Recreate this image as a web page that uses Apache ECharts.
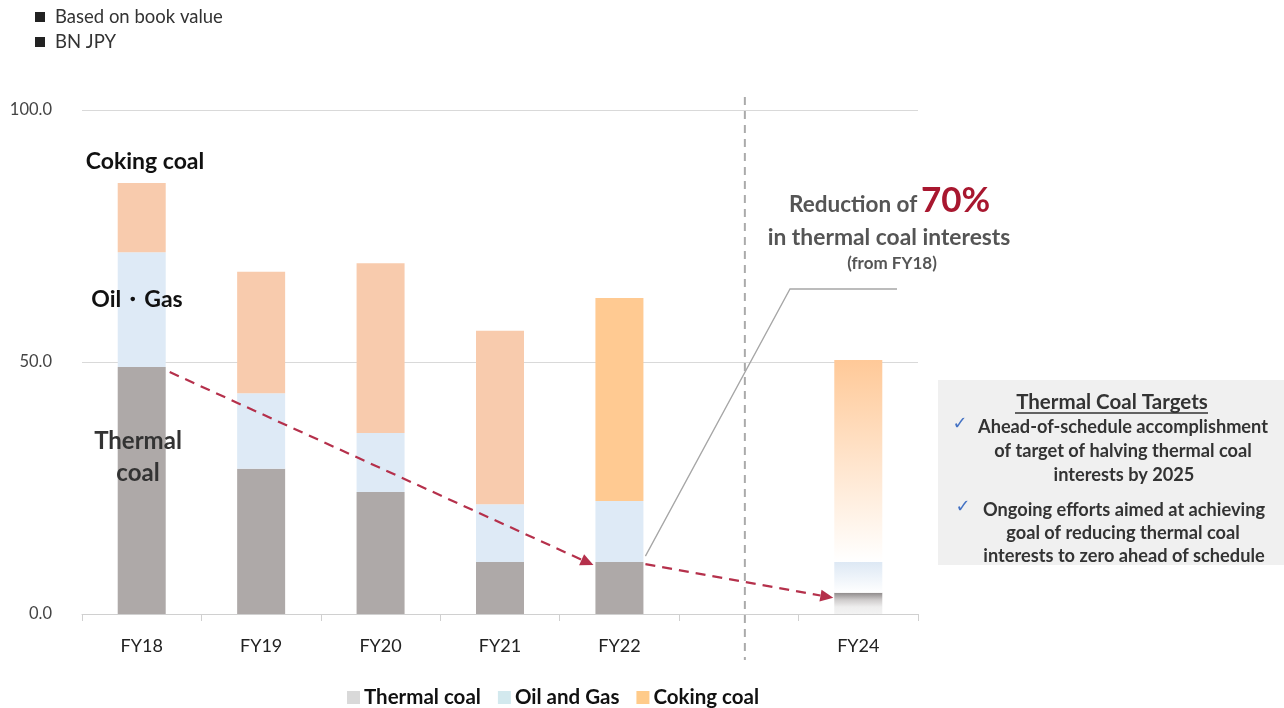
<!DOCTYPE html>
<html><head><meta charset="utf-8">
<script src="https://cdn.jsdelivr.net/npm/echarts@6/dist/echarts.min.js"></script>
<style>html,body{margin:0;padding:0;background:#fff}#c{width:1284px;height:708px}</style>
</head><body><div id="c"></div>
<script>
const categories = ['FY18','FY19','FY20','FY21','FY22','','FY24'];
const thermalCoal = [49.0, 28.8, 24.2, 10.3, 10.3, null, 4.2];
const oilGas      = [22.8, 15.0, 11.7, 11.5, 12.1, null, 6.1];
const cokingCoal  = [13.7, 24.1, 33.7, 34.4, 40.3, null, 40.1];
const yTicks = [0, 50, 100];
const seriesNames = ['Thermal coal','Oil and Gas','Coking coal'];

const FONT = 'Lato, "Open Sans", sans-serif';
const chart = echarts.init(document.getElementById('c'), null, {renderer:'canvas'});

function grad(stops){
  return new echarts.graphic.LinearGradient(0,0,0,1,stops.map((c,i)=>({offset:i/(stops.length-1),color:c})));
}
const thermalData = thermalCoal.map((v,i)=> i===6 ? {value:v,itemStyle:{color:grad(['#8f8b8b','#cfcccc','#eeeeee','#f3f3f3'])}} : v);
const oilData = oilGas.map((v,i)=> i===6 ? {value:v,itemStyle:{color:grad(['#dde8f4','#ffffff'])}} : v);
const cokingData = cokingCoal.map((v,i)=> i===6 ? {value:v,itemStyle:{color:grad(['#ffc998','#ffffff'])}} : (i===4 ? {value:v,itemStyle:{color:'#FFCA92'}} : v));

const option = {
  animation:false,
  grid:{left:82,right:366,top:110,bottom:94,containLabel:false},
  legend:{
    bottom:-5, left:342, itemWidth:13, itemHeight:13, itemGap:17, icon:'rect',
    textStyle:{fontFamily:FONT,fontSize:20.5,fontWeight:'bold',color:'#111',padding:[0,0,0,-1]},
    data:[
      {name:'Thermal coal',itemStyle:{color:'#D9D9D9'}},
      {name:'Oil and Gas',itemStyle:{color:'#D3E9EE'}},
      {name:'Coking coal',itemStyle:{color:'#FFCB8A'}}
    ]
  },
  xAxis:{
    type:'category', data:categories,
    axisLine:{lineStyle:{color:'#D0D0D0'}},
    axisTick:{show:true,length:7,lineStyle:{color:'#D0D0D0'}},
    axisLabel:{fontFamily:FONT,fontSize:18,color:'#222',margin:23}
  },
  yAxis:{
    type:'value', min:yTicks[0], max:yTicks[yTicks.length-1], interval:50,
    axisLine:{show:false}, axisTick:{show:false},
    splitLine:{lineStyle:{color:'#D9D9D9'}},
    axisLabel:{fontFamily:FONT,fontSize:16.5,color:'#444',margin:30,formatter:v=>v.toFixed(1)}
  },
  series:[
    {name:seriesNames[0],type:'bar',stack:'a',barWidth:48,data:thermalData,itemStyle:{color:'#AEA9A8'}},
    {name:seriesNames[1],type:'bar',stack:'a',barWidth:48,data:oilData,itemStyle:{color:'#DEEAF6'}},
    {name:seriesNames[2],type:'bar',stack:'a',barWidth:48,data:cokingData,itemStyle:{color:'#F8CBAD'}}
  ]
};
chart.setOption(option);

function px(i,v){return chart.convertToPixel({seriesIndex:0},[i,v]);}
const half = 24;
const g = [];
const sep = px(5,0);
g.push({type:'line',shape:{x1:sep[0]+6,y1:97,x2:sep[0]+6,y2:660},style:{stroke:'#AAAAAA',lineWidth:2,lineDash:[8,6]},z:5});

function arrow(x1,y1,x2,y2){
  const ang=Math.atan2(y2-y1,x2-x1);
  const L=13,W=6;
  const bx=x2-L*Math.cos(ang), by=y2-L*Math.sin(ang);
  g.push({type:'line',shape:{x1,y1,x2:bx,y2:by},style:{stroke:'#B5304B',lineWidth:2.2,lineDash:[10,7]},z:10});
  g.push({type:'polygon',shape:{points:[[x2,y2],[bx-W*Math.sin(ang),by+W*Math.cos(ang)],[bx+W*Math.sin(ang),by-W*Math.cos(ang)]]},style:{fill:'#B5304B'},z:10});
}
const p0=px(0,thermalCoal[0]), p4=px(4,thermalCoal[4]), p6=px(6,thermalCoal[6]);
arrow(p0[0]+half+4,p0[1]+5,p4[0]-half-2,p4[1]+3);
arrow(p4[0]+half+2,p4[1]+2,p6[0]-half-1,p6[1]+5);
g.push({type:'polyline',shape:{points:[[p4[0]+half+2,p4[1]-6],[790,289],[897,289]]},style:{stroke:'#A6A6A6',lineWidth:1.3,fill:null},z:6});

const tb = {fontFamily:FONT,fontWeight:'bold',fontSize:23,fill:'#111'};
g.push({type:'text',x:145,y:162,style:Object.assign({},tb,{text:'Coking coal',textAlign:'center',textVerticalAlign:'middle'}),z:20});
g.push({type:'text',x:137,y:300,style:Object.assign({},tb,{text:'Oil・Gas',textAlign:'center',textVerticalAlign:'middle'}),z:20});
g.push({type:'text',x:138,y:457,style:Object.assign({},tb,{text:'Thermal\ncoal',fontSize:24,fill:'#333',textAlign:'center',textVerticalAlign:'middle',lineHeight:32}),z:20});

g.push({type:'text',x:789,y:205,style:{text:'Reduction of',fontFamily:FONT,fontWeight:'bold',fontSize:22.5,fill:'#555',textAlign:'left',textVerticalAlign:'middle'},z:20});
g.push({type:'text',x:921,y:201,style:{text:'70%',fontFamily:FONT,fontWeight:'bold',fontSize:35,fill:'#A8172F',textAlign:'left',textVerticalAlign:'middle'},z:20});
g.push({type:'text',x:889,y:238,style:{text:'in thermal coal interests',fontFamily:FONT,fontWeight:'bold',fontSize:22.8,fill:'#555',textAlign:'center',textVerticalAlign:'middle'},z:20});
g.push({type:'text',x:892,y:264,style:{text:'(from FY18)',fontFamily:FONT,fontWeight:'bold',fontSize:17,fill:'#555',textAlign:'center',textVerticalAlign:'middle'},z:20});

g.push({type:'rect',shape:{x:938,y:380,width:346,height:185},style:{fill:'#F0F0F0'},z:1});
g.push({type:'text',x:1112,y:402,style:{text:'Thermal Coal Targets',fontFamily:FONT,fontWeight:'bold',fontSize:20.5,fill:'#333',textAlign:'center',textVerticalAlign:'middle'},z:20});
g.push({type:'line',shape:{x1:1015,y1:413,x2:1208,y2:413},style:{stroke:'#333',lineWidth:1.3},z:20});
const bt = {fontFamily:FONT,fontWeight:'bold',fontSize:18.2,fill:'#333',textAlign:'center',textVerticalAlign:'middle'};
const ck = {text:'✓',fontFamily:'DejaVu Sans',fontSize:18,fill:'#4472C4',textAlign:'center',textVerticalAlign:'middle'};
g.push({type:'text',x:960,y:424,style:ck,z:20});
g.push({type:'text',x:1123,y:427,style:Object.assign({},bt,{text:'Ahead-of-schedule accomplishment'}),z:20});
g.push({type:'text',x:1123,y:451,style:Object.assign({},bt,{text:'of target of halving thermal coal'}),z:20});
g.push({type:'text',x:1124,y:475,style:Object.assign({},bt,{text:'interests by 2025'}),z:20});
g.push({type:'text',x:963,y:507,style:ck,z:20});
g.push({type:'text',x:1124,y:510,style:Object.assign({},bt,{text:'Ongoing efforts aimed at achieving'}),z:20});
g.push({type:'text',x:1123,y:533,style:Object.assign({},bt,{text:'goal of reducing thermal coal'}),z:20});
g.push({type:'text',x:1124,y:556,style:Object.assign({},bt,{text:'interests to zero ahead of schedule'}),z:20});

g.push({type:'rect',shape:{x:35,y:12,width:10,height:10},style:{fill:'#222'},z:20});
g.push({type:'text',x:55,y:17,style:{text:'Based on book value',fontFamily:FONT,fontSize:18.5,fill:'#333',textVerticalAlign:'middle'},z:20});
g.push({type:'rect',shape:{x:35,y:37,width:10,height:10},style:{fill:'#222'},z:20});
g.push({type:'text',x:55,y:42,style:{text:'BN JPY',fontFamily:FONT,fontSize:18.5,fill:'#333',textVerticalAlign:'middle'},z:20});

chart.setOption({graphic:g});
</script></body></html>
